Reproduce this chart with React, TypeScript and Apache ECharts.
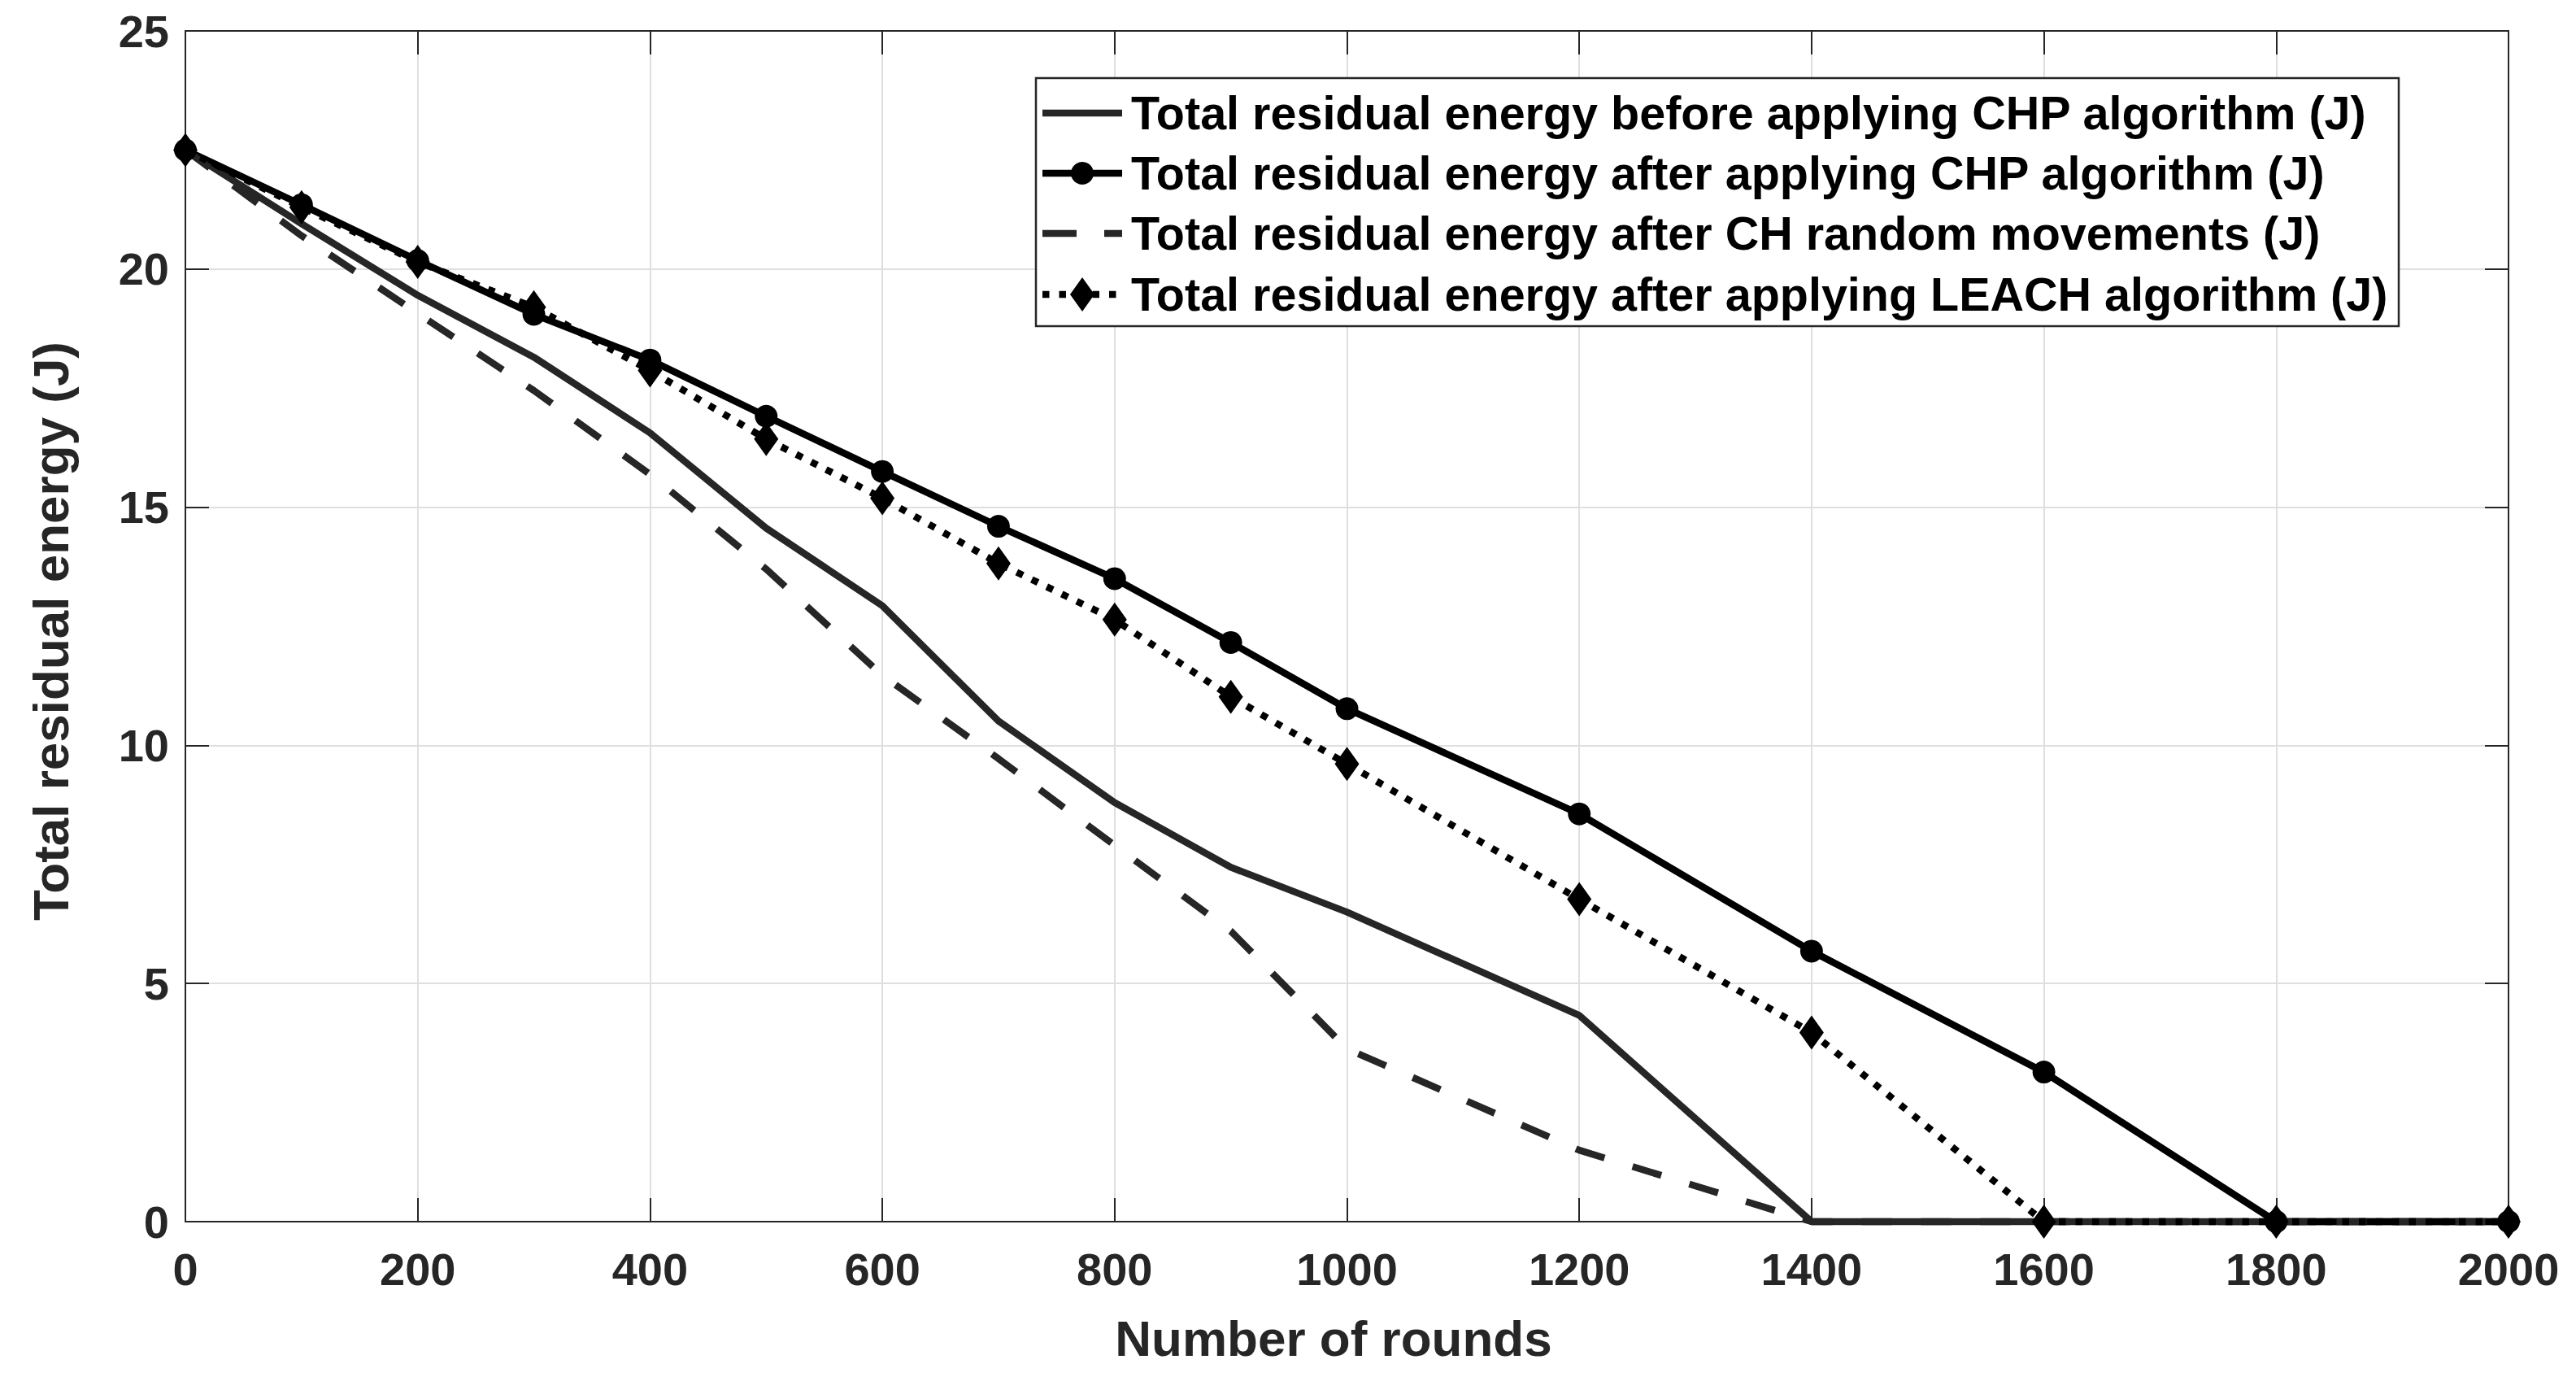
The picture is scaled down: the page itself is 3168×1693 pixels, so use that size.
import React, { useEffect, useRef } from "react";
import * as echarts from "echarts";

// ---- data ----
const rounds = [0, 100, 200, 300, 400, 500, 600, 700, 800, 900, 1000, 1200, 1400, 1600, 1800, 2000];
const beforeCHP = [22.5, 20.95, 19.45, 18.15, 16.56, 14.56, 12.93, 10.51, 8.8, 7.44, 6.5, 4.33, 0, 0, 0, 0];
const afterCHP = [22.5, 21.35, 20.18, 19.05, 18.09, 16.91, 15.75, 14.6, 13.5, 12.16, 10.77, 8.56, 5.68, 3.14, 0, 0];
const randomCH = [22.5, 20.7, 19.07, 17.45, 15.69, 13.7, 11.47, 9.72, 7.9, 6.1, 3.63, 1.5, 0, 0, 0, 0];
const leach = [22.5, 21.3, 20.15, 19.2, 17.87, 16.43, 15.19, 13.82, 12.64, 11.02, 9.61, 6.77, 3.97, 0, 0, 0];

const seriesNames = [
  "Total residual energy before applying CHP algorithm (J)",
  "Total residual energy after applying CHP algorithm (J)",
  "Total residual energy after CH random movements (J)",
  "Total residual energy after applying LEACH algorithm (J)",
];

const xTitle = "Number of rounds";
const yTitle = "Total residual energy (J)";

const FONT = '"Liberation Sans", Arial, Helvetica, sans-serif';
const AX = "#262626";
const LW = 8.5;
const DASH = [37, 36];
const DOT = [8.5, 12];

export default function App() {
  const ref = useRef<HTMLDivElement>(null);

  useEffect(() => {
    document.body.style.margin = "0";
    document.body.style.overflow = "hidden";
    const chart = echarts.init(ref.current!, null, { renderer: "svg" });
    const pair = (ys: number[]) => rounds.map((r, i) => [r, ys[i]]);

    const axisLine = { show: true, onZero: false, lineStyle: { color: AX, width: 2 } };
    const axisTick = { show: true, inside: true, length: 29, lineStyle: { color: AX, width: 2 } };
    const labelStyle = {
      fontFamily: FONT, fontWeight: "bold", fontSize: 56, color: AX,
      formatter: (v: number) => String(v),
    };

    // legend drawn with graphic elements
    const LX = 1274, LY = 96, LWID = 1676, LH = 305;
    const rowY = [139, 213, 287, 362];
    const iconL = 1282, iconR = 1380, iconC = 1331, textX = 1391;
    const legendText = (i: number) => ({
      type: "text", x: textX, y: rowY[i], z: 11,
      style: { text: seriesNames[i], fontFamily: FONT, fontWeight: "bold", fontSize: 57.5, fill: "#000", align: "left", verticalAlign: "middle" },
    });
    const legendLine = (i: number, color: string, dash?: number[]) => ({
      type: "line", z: 11,
      shape: { x1: iconL, y1: rowY[i], x2: iconR, y2: rowY[i] },
      style: { stroke: color, lineWidth: LW, lineDash: dash || null, lineCap: "butt" },
    });

    const legendGraphics: any[] = [
      { type: "rect", z: 10, shape: { x: LX, y: LY, width: LWID, height: LH }, style: { fill: "#fff", stroke: AX, lineWidth: 2.5 } },
      legendLine(0, "#262626"),
      legendLine(1, "#000"),
      { type: "circle", z: 12, shape: { cx: iconC, cy: rowY[1], r: 14 }, style: { fill: "#000" } },
      legendLine(2, "#262626", [42, 34]),
      legendLine(3, "#000", DOT),
      {
        type: "polygon", z: 12,
        shape: { points: [[iconC - 15, rowY[3]], [iconC, rowY[3] - 21], [iconC + 15, rowY[3]], [iconC, rowY[3] + 21]] },
        style: { fill: "#000" },
      },
      legendText(0), legendText(1), legendText(2), legendText(3),
    ];

    chart.setOption({
      animation: false,
      backgroundColor: "#fff",
      grid: { left: 228, right: 83, top: 38, bottom: 191, containLabel: false },
      xAxis: [
        {
          type: "value", min: 0, max: 2000, interval: 200, position: "bottom",
          axisLine, axisTick,
          axisLabel: { ...labelStyle, margin: 30 },
          splitLine: { show: true, lineStyle: { color: "#dfdfdf", width: 2 } },
        },
        {
          type: "value", min: 0, max: 2000, interval: 200, position: "top",
          axisLine, axisTick, axisLabel: { show: false }, splitLine: { show: false },
        },
      ],
      yAxis: [
        {
          type: "value", min: 0, max: 25, interval: 5, position: "left",
          axisLine, axisTick,
          axisLabel: { ...labelStyle, margin: 20 },
          splitLine: { show: true, lineStyle: { color: "#dfdfdf", width: 2 } },
        },
        {
          type: "value", min: 0, max: 25, interval: 5, position: "right",
          axisLine, axisTick, axisLabel: { show: false }, splitLine: { show: false },
        },
      ],
      graphic: [
        {
          type: "text", x: 1640, y: 1645,
          style: { text: xTitle, fontFamily: FONT, fontWeight: "bold", fontSize: 62, fill: AX, align: "center", verticalAlign: "middle" },
        },
        {
          type: "text", x: 62, y: 776, rotation: Math.PI / 2,
          style: { text: yTitle, fontFamily: FONT, fontWeight: "bold", fontSize: 62, fill: AX, align: "center", verticalAlign: "middle" },
        },
        ...legendGraphics,
      ],
      series: [
        {
          name: seriesNames[0], type: "line", data: pair(beforeCHP), symbol: "none", clip: false,
          lineStyle: { color: "#262626", width: LW }, itemStyle: { color: "#262626" },
        },
        {
          name: seriesNames[1], type: "line", data: pair(afterCHP), symbol: "circle", symbolSize: 28, clip: false,
          lineStyle: { color: "#000", width: LW }, itemStyle: { color: "#000" },
        },
        {
          name: seriesNames[2], type: "line", data: pair(randomCH), symbol: "none", clip: false,
          lineStyle: { color: "#262626", width: LW, type: DASH }, itemStyle: { color: "#262626" },
        },
        {
          name: seriesNames[3], type: "line", data: pair(leach), symbol: "diamond", symbolSize: [30, 42], clip: false,
          lineStyle: { color: "#000", width: LW, type: DOT }, itemStyle: { color: "#000" },
        },
      ],
    });
    return () => chart.dispose();
  }, []);

  return <div ref={ref} style={{ width: 3168, height: 1693 }} />;
}
